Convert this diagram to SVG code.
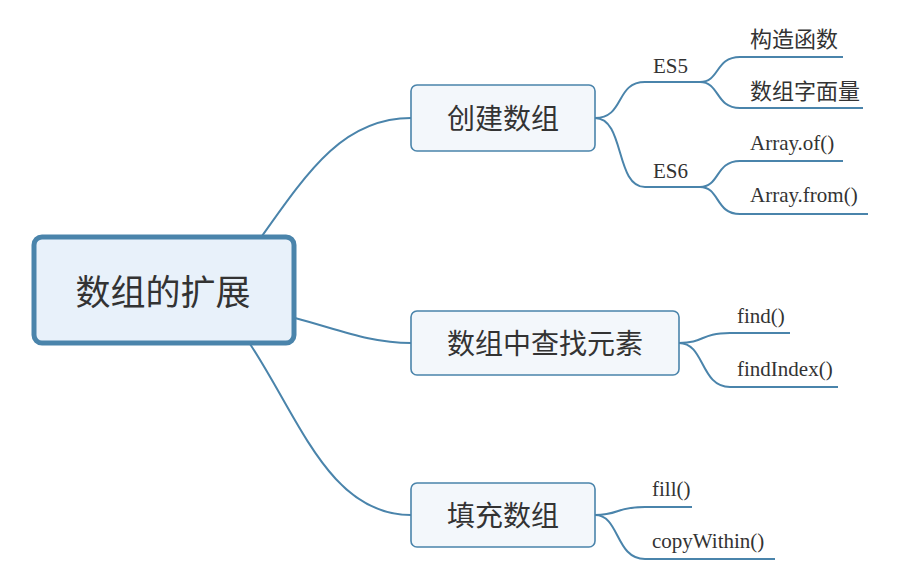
<svg xmlns="http://www.w3.org/2000/svg" width="898" height="580" viewBox="0 0 898 580">
<style>
.c{fill:none;stroke:#4a84ab;stroke-width:2}
.n{fill:#f3f7fb;stroke:#4a84ab;stroke-width:1.6}
.r{fill:#e8f1fa;stroke:#4a84ab;stroke-width:5}
.zh{font-family:"Noto Sans CJK SC",sans-serif;fill:#333}
.en{font-family:"Liberation Serif",serif;fill:#333;font-size:21px}
</style>
<rect width="898" height="580" fill="#fff"/>
<g id="connectors">
<path class="c" d="M262,236 C310,168 345,118 411,118"/>
<path class="c" d="M295,318 C340,330 370,343 411,343"/>
<path class="c" d="M250,344 C300,420 330,515 411,515"/>
<path class="c" d="M595,118 C625,118 615,82 645,82 H700"/>
<path class="c" d="M595,118 C625,118 615,187 645,187 H700"/>
<path class="c" d="M700,82 C720,82 715,57 740,57 H843"/>
<path class="c" d="M700,82 C720,82 715,108 740,108 H863"/>
<path class="c" d="M700,187 C720,187 715,161 740,161 H843"/>
<path class="c" d="M700,187 C720,187 715,214 740,214 H868"/>
<path class="c" d="M679,343 C705,343 700,333 730,333 H790"/>
<path class="c" d="M679,343 C705,343 700,387 730,387 H838"/>
<path class="c" d="M595,515 C620,515 615,507 645,507 H692"/>
<path class="c" d="M595,515 C620,515 615,559 645,559 H775"/>
</g>
<g id="root">
<rect class="r" x="34" y="237" width="260" height="106" rx="8"/>
<text class="zh" x="163" y="305" font-size="35" text-anchor="middle">数组的扩展</text>
</g>
<g id="n1">
<rect class="n" x="411" y="85" width="184" height="66" rx="6"/>
<text class="zh" x="503" y="129" font-size="28" text-anchor="middle">创建数组</text>
</g>
<g id="n2">
<rect class="n" x="411" y="311" width="268" height="64" rx="6"/>
<text class="zh" x="545" y="354" font-size="28" text-anchor="middle">数组中查找元素</text>
</g>
<g id="n3">
<rect class="n" x="411" y="483" width="184" height="64" rx="6"/>
<text class="zh" x="503" y="526" font-size="28" text-anchor="middle">填充数组</text>
</g>
<g id="es5"><text class="en" x="653" y="73">ES5</text></g>
<g id="es6"><text class="en" x="653" y="178">ES6</text></g>
<g id="l1"><text class="zh" x="750" y="47" font-size="22">构造函数</text></g>
<g id="l2"><text class="zh" x="750" y="99" font-size="22">数组字面量</text></g>
<g id="l3"><text class="en" x="750" y="150">Array.of()</text></g>
<g id="l4"><text class="en" x="750" y="202">Array.from()</text></g>
<g id="l5"><text class="en" x="737" y="323">find()</text></g>
<g id="l6"><text class="en" x="737" y="376">findIndex()</text></g>
<g id="l7"><text class="en" x="652" y="496">fill()</text></g>
<g id="l8"><text class="en" x="652" y="548">copyWithin()</text></g>
</svg>
